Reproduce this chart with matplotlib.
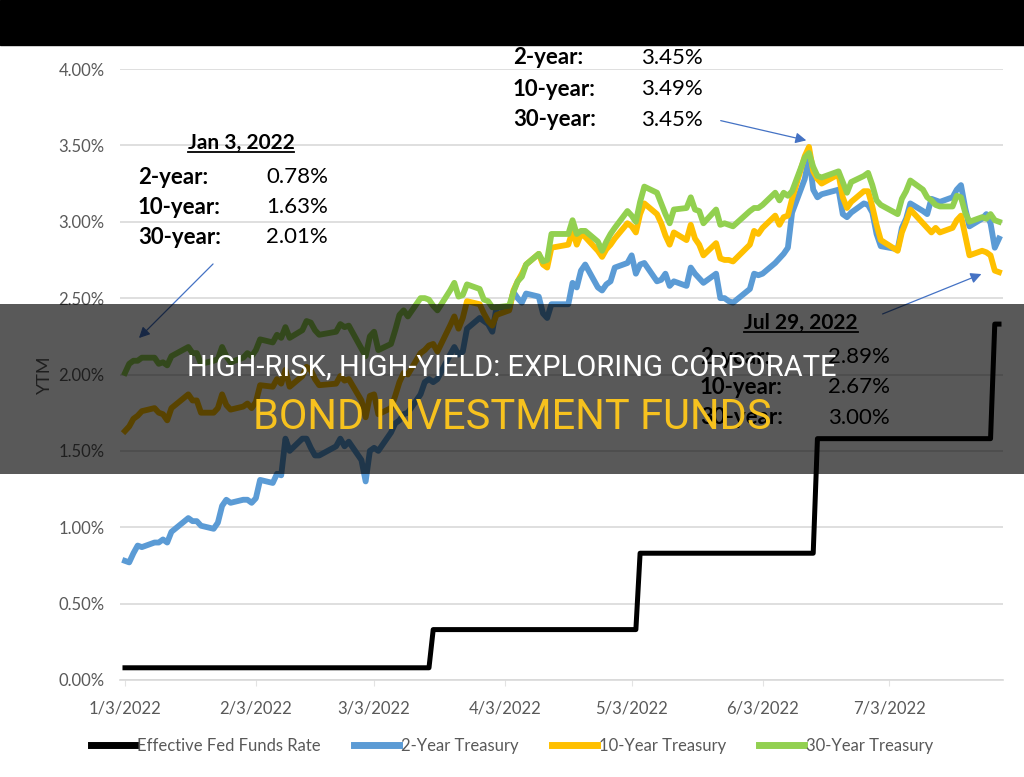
import datetime as dt
import numpy as np
import pandas as pd
import matplotlib
matplotlib.use("Agg")
import matplotlib.pyplot as plt
import matplotlib.dates as mdates
import matplotlib.ticker as mticker
from matplotlib.patches import Rectangle, FancyArrowPatch
from matplotlib.lines import Line2D

# ---------------- data ----------------
# bond-market trading days, Jan 3 .. Jul 29 2022
holidays = ["2022-01-17", "2022-02-21", "2022-04-15", "2022-05-30", "2022-06-20", "2022-07-04"]
days = pd.bdate_range("2022-01-03", "2022-07-29")
days = days[~days.isin(pd.to_datetime(holidays))]

y2_jan = [0.78, 0.77, 0.83, 0.88, 0.87, 0.90, 0.90, 0.92, 0.90, 0.97, 1.06, 1.04, 1.04, 1.01, 0.99, 1.03, 1.14, 1.18, 1.16, 1.18]
y2_feb = [1.18, 1.16, 1.19, 1.31, 1.29, 1.35, 1.34, 1.58, 1.50, 1.58, 1.58, 1.52, 1.47, 1.47, 1.53, 1.58, 1.53, 1.56, 1.44]
y2_mar = [1.30, 1.50, 1.52, 1.50, 1.62, 1.68, 1.70, 1.74, 1.75, 1.87, 1.95, 1.97, 1.95, 1.97, 2.13, 2.18, 2.13, 2.15, 2.30, 2.37, 2.35, 2.33, 2.28]
y2_apr = [2.44, 2.43, 2.54, 2.50, 2.47, 2.53, 2.51, 2.40, 2.37, 2.46, 2.46, 2.60, 2.57, 2.68, 2.72, 2.57, 2.55, 2.59, 2.61, 2.70]
y2_may = [2.73, 2.78, 2.66, 2.72, 2.73, 2.61, 2.62, 2.66, 2.58, 2.61, 2.58, 2.70, 2.66, 2.63, 2.60, 2.66, 2.50, 2.50, 2.48, 2.47, 2.56]
y2_jun = [2.66, 2.65, 2.66, 2.73, 2.76, 2.79, 2.83, 3.06, 3.28, 3.43, 3.21, 3.16, 3.18, 3.21, 3.05, 3.03, 3.06, 3.12, 3.11, 3.06, 2.92]
y2_jul = [2.84, 2.82, 2.96, 3.02, 3.12, 3.07, 3.05, 3.15, 3.14, 3.13, 3.16, 3.21, 3.24, 3.09, 2.97, 3.02, 3.05, 2.99, 2.83, 2.89]

y10_jan = [1.63, 1.66, 1.71, 1.73, 1.76, 1.78, 1.75, 1.74, 1.70, 1.78, 1.87, 1.83, 1.83, 1.75, 1.75, 1.78, 1.87, 1.80, 1.77, 1.79]
y10_feb = [1.81, 1.78, 1.82, 1.93, 1.92, 1.97, 1.94, 2.03, 1.92, 1.99, 2.05, 2.03, 1.97, 1.93, 1.94, 1.99, 1.96, 1.97, 1.83]
y10_mar = [1.72, 1.86, 1.87, 1.74, 1.78, 1.86, 1.95, 2.01, 2.00, 2.14, 2.16, 2.19, 2.20, 2.15, 2.32, 2.38, 2.30, 2.37, 2.48, 2.46, 2.40, 2.35, 2.32]
y10_apr = [2.39, 2.42, 2.55, 2.61, 2.66, 2.72, 2.79, 2.72, 2.70, 2.83, 2.85, 2.94, 2.85, 2.92, 2.90, 2.81, 2.77, 2.82, 2.85, 2.89]
y10_may = [2.99, 2.97, 2.93, 3.05, 3.12, 3.05, 2.99, 2.91, 2.85, 2.93, 2.88, 2.98, 2.89, 2.85, 2.78, 2.86, 2.76, 2.75, 2.75, 2.74, 2.85]
y10_jun = [2.94, 2.92, 2.96, 3.04, 2.98, 3.03, 3.04, 3.15, 3.43, 3.49, 3.33, 3.28, 3.25, 3.31, 3.16, 3.09, 3.13, 3.20, 3.20, 3.10, 2.98]
y10_jul = [2.88, 2.81, 2.93, 3.00, 3.08, 2.99, 2.96, 2.93, 2.96, 2.93, 2.96, 3.01, 3.04, 2.91, 2.78, 2.81, 2.80, 2.78, 2.68, 2.67]

y30_jan = [2.01, 2.07, 2.09, 2.09, 2.11, 2.11, 2.07, 2.08, 2.06, 2.12, 2.18, 2.14, 2.14, 2.07, 2.09, 2.10, 2.18, 2.12, 2.08, 2.11]
y30_feb = [2.14, 2.12, 2.16, 2.23, 2.21, 2.26, 2.24, 2.31, 2.24, 2.29, 2.35, 2.34, 2.29, 2.26, 2.28, 2.33, 2.31, 2.32, 2.17]
y30_mar = [2.12, 2.25, 2.28, 2.16, 2.20, 2.29, 2.39, 2.42, 2.38, 2.50, 2.50, 2.49, 2.45, 2.42, 2.55, 2.60, 2.51, 2.52, 2.59, 2.56, 2.49, 2.48, 2.44]
y30_apr = [2.44, 2.45, 2.54, 2.61, 2.64, 2.72, 2.79, 2.74, 2.75, 2.92, 2.92, 3.01, 2.92, 2.94, 2.94, 2.87, 2.81, 2.87, 2.92, 2.96]
y30_may = [3.07, 3.04, 3.00, 3.13, 3.23, 3.19, 3.12, 3.05, 2.99, 3.08, 3.09, 3.16, 3.08, 3.07, 2.99, 3.08, 2.98, 2.99, 2.98, 2.97, 3.07]
y30_jun = [3.09, 3.09, 3.11, 3.19, 3.14, 3.19, 3.17, 3.20, 3.42, 3.45, 3.36, 3.30, 3.29, 3.33, 3.26, 3.19, 3.26, 3.30, 3.32, 3.24, 3.14]
y30_jul = [3.11, 3.05, 3.15, 3.20, 3.27, 3.21, 3.16, 3.14, 3.11, 3.10, 3.10, 3.17, 3.16, 3.06, 3.00, 3.03, 3.02, 3.05, 3.01, 3.00]

# effective fed funds rate, vertices of the step line
ffr_dates = ["2022-01-03", "2022-03-16", "2022-03-17", "2022-05-04", "2022-05-05",
             "2022-06-15", "2022-06-16", "2022-07-27", "2022-07-28", "2022-07-29"]
ffr_vals = [0.08, 0.08, 0.33, 0.33, 0.83, 0.83, 1.58, 1.58, 2.33, 2.33]

y2 = y2_jan + y2_feb + y2_mar + y2_apr + y2_may + y2_jun + y2_jul
y10 = y10_jan + y10_feb + y10_mar + y10_apr + y10_may + y10_jun + y10_jul
y30 = y30_jan + y30_feb + y30_mar + y30_apr + y30_may + y30_jun + y30_jul
assert len(y2) == len(y10) == len(y30) == len(days), (len(y2), len(y10), len(y30), len(days))

tick_dates = [dt.date(2022, m, 3) for m in range(1, 8)]

series_names = ["Effective Fed Funds Rate", "2-Year Treasury", "10-Year Treasury", "30-Year Treasury"]
colors = ["#000000", "#5B9BD5", "#FFC000", "#92D050"]

# ---------------- figure ----------------
W, H = 1024, 777
fig = plt.figure(figsize=(W / 100, H / 100), dpi=100)
plt.rcParams["font.family"] = ["Lato", "DejaVu Sans"]

ax = fig.add_axes([120 / W, (H - 680) / H, (1003 - 120) / W, (680 - 69) / H])

ax.plot(pd.to_datetime(ffr_dates), ffr_vals, color=colors[0], lw=3.6, label=series_names[0])
ax.plot(days, y2, color=colors[1], lw=4.2, label=series_names[1])
ax.plot(days, y10, color=colors[2], lw=4.2, label=series_names[2])
ax.plot(days, y30, color=colors[3], lw=4.2, label=series_names[3])

x0 = mdates.date2num(dt.date(2022, 1, 3))
x1 = mdates.date2num(dt.date(2022, 7, 29))
ax.set_xlim(x0 - 1.18, x1 + 0.95)
ax.set_ylim(0, 4)

ax.set_yticks(np.arange(0, 4.01, 0.5))
ax.yaxis.set_major_formatter(mticker.FuncFormatter(lambda v, p: f"{v:.2f}%"))
ax.set_xticks([mdates.date2num(d) for d in tick_dates])
ax.set_xticklabels([f"{d.month}/{d.day}/{d.year}" for d in tick_dates])

ax.grid(axis="y", color="#D9D9D9", lw=1.2)
ax.set_axisbelow(True)
for s in ["top", "right", "left"]:
    ax.spines[s].set_visible(False)
ax.spines["bottom"].set_color("#D9D9D9")
ax.spines["bottom"].set_linewidth(1.2)
ax.tick_params(axis="y", length=0, pad=11, labelsize=12, labelcolor="#595959")
ax.tick_params(axis="x", length=4, color="#E3E3E3", pad=11, labelsize=12, labelcolor="#595959")
ax.set_ylabel("YTM", fontsize=13, color="#595959", labelpad=4)

leg = fig.legend(loc="center", bbox_to_anchor=(0.5, 1 - 746 / H), ncol=4, frameon=False,
                 fontsize=12, handlelength=2.7, handletextpad=0.1, columnspacing=2.0,
                 labelcolor="#595959")
for h in leg.get_lines():
    h.set_linewidth(5)


def ftext(x, y, s, **kw):
    kw.setdefault("va", "center")
    return fig.text(x / W, 1 - y / H, s, **kw)


def underline(t):
    fig.canvas.draw()
    bb = t.get_window_extent()
    fig.add_artist(Line2D([bb.x0 / W, bb.x1 / W], [(bb.y0 + 1) / H] * 2,
                          transform=fig.transFigure, color="black", lw=1.3, zorder=t.get_zorder()))


def arrow(xa, ya, xb, yb):
    fig.add_artist(FancyArrowPatch((xa / W, 1 - ya / H), (xb / W, 1 - yb / H),
                                   transform=fig.transFigure, arrowstyle="-|>",
                                   mutation_scale=16, color="#4472C4", lw=0.9, zorder=3))


# annotation boxes
t = ftext(241, 143, "Jan 3, 2022", ha="center", fontsize=15, fontweight="bold")
underline(t)
for yy, lab, val in [(177, "2-year:", "0.78%"), (207, "10-year:", "1.63%"), (237, "30-year:", "2.01%")]:
    ftext(138, yy, lab, fontsize=16, fontweight="bold")
    ftext(266, yy, val, fontsize=16)
arrow(215, 262, 137, 340)

for yy, lab, val in [(58, "2-year:", "3.45%"), (89, "10-year:", "3.49%"), (120, "30-year:", "3.45%")]:
    ftext(513, yy, lab, fontsize=16, fontweight="bold")
    ftext(641, yy, val, fontsize=16)
arrow(718, 120, 809, 141)

t = ftext(801, 323, "Jul 29, 2022", ha="center", fontsize=15, fontweight="bold")
underline(t)
for yy, lab, val in [(357, "2-year:", "2.89%"), (387, "10-year:", "2.67%"), (418, "30-year:", "3.00%")]:
    ftext(700, yy, lab, fontsize=16, fontweight="bold")
    ftext(828, yy, val, fontsize=16)
arrow(880, 315, 984, 273)

# page overlays: black top strip and title band
fig.add_artist(Rectangle((0, 1 - 45 / H), 1, 45 / H, transform=fig.transFigure,
                         color="black", zorder=10))
fig.add_artist(Rectangle((0, 1 - 474 / H), 1, 170 / H, transform=fig.transFigure,
                         color="black", alpha=0.65, lw=0, zorder=8))
ftext(512, 368, "HIGH-RISK, HIGH-YIELD: EXPLORING CORPORATE", ha="center", fontsize=21,
      color="white", family="Roboto", zorder=9)
ftext(512, 417, "BOND INVESTMENT FUNDS", ha="center", fontsize=30,
      color="#F7C21E", family="Roboto", zorder=9)

fig.savefig("out.png", dpi=100)
